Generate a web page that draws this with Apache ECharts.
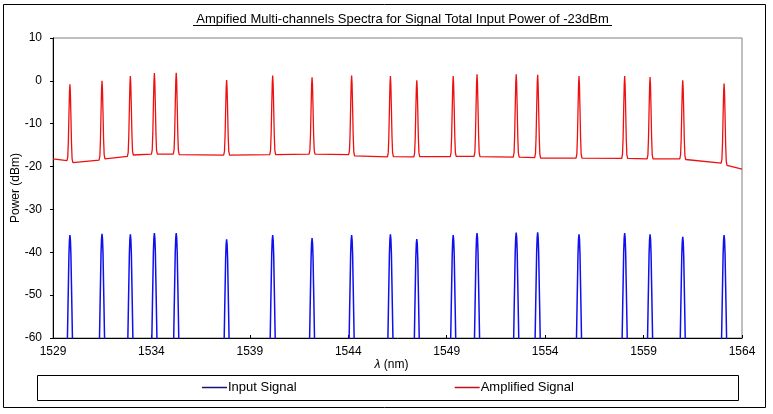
<!DOCTYPE html>
<html>
<head>
<meta charset="utf-8">
<script src="https://cdn.jsdelivr.net/npm/echarts@6/dist/echarts.min.js"></script>
<style>
  html, body { margin: 0; padding: 0; background: #fff; }
  #chart { width: 773px; height: 414px; }
</style>
</head>
<body>
<div id="chart"></div>
<script>
// ---- Data ----
const xTicks = [1529, 1534, 1539, 1544, 1549, 1554, 1559, 1564];
const yTicks = [-60, -50, -40, -30, -20, -10, 0, 10];

// channel centre wavelengths (nm)
const channels = [1529.86, 1531.49, 1532.93, 1534.15, 1535.26, 1537.82, 1540.16, 1542.16, 1544.17, 1546.14,
                  1547.48, 1549.33, 1550.54, 1552.53, 1553.62, 1555.72, 1558.04, 1559.33, 1560.99, 1563.09];

// Input signal peak power (dBm)
const inputPeak = [-36.0, -35.7, -35.8, -35.5, -35.5, -37.0, -36.0, -36.7, -36.0, -35.8,
                   -36.9, -36.0, -35.5, -35.4, -35.35, -35.8, -35.5, -35.8, -36.4, -36.0];

// Amplified signal peak power (dBm)
const ampPeak = [-0.8, 0.0, 1.1, 1.8, 1.9, 0.2, 1.25, 0.85, 1.25, 1.1,
                 0.15, 1.1, 1.55, 1.55, 1.4, 1.1, 1.1, 0.9, 0.15, -0.6];

// Amplified signal ASE floor just left / right of each channel (dBm)
const ampFloorBefore = [-18.6, -18.5, -17.6, -17.1, -17.1, -17.35, -17.2, -17.1, -17.2, -17.75,
                        -17.75, -17.7, -17.6, -17.8, -17.9, -18.05, -18.1, -18.2, -18.2, -19.2];
const ampFloorAfter  = [-19.1, -18.2, -17.3, -17.1, -17.2, -17.35, -17.2, -17.1, -17.5, -17.7,
                        -17.7, -17.6, -17.7, -17.8, -18.05, -18.05, -18.1, -18.2, -18.35, -19.7];
const ampFloorStart = -18.2;   // at 1529 nm
const ampFloorEnd = -20.6;     // at 1564 nm

// Peak line shapes
const inputShapeOffset = [-0.16, -0.127, -0.1, -0.076, -0.05, -0.025, 0, 0.025, 0.05, 0.076, 0.1, 0.127, 0.16]; // nm
const inputShapeDrop   = [-44, -24, -17, -11, -4.5, -1.2, 0, -1.2, -4.5, -11, -17, -24, -44];               // dB below peak
const ampShapeOffset = [-0.15, -0.11, -0.08, -0.05, -0.022, 0, 0.022, 0.05, 0.08, 0.11, 0.15];              // nm
const ampShapeFrac   = [0, 0.05, 0.25, 0.6, 0.9, 1, 0.9, 0.6, 0.25, 0.05, 0];                                // share of peak height above floor

// ---- Build series points ----
const inputData = [];
channels.forEach((c, i) => {
  inputShapeOffset.forEach((o, k) => {
    inputData.push([+(c + o).toFixed(4), inputPeak[i] + inputShapeDrop[k]]);
  });
});

const ampData = [[1529, ampFloorStart]];
channels.forEach((c, i) => {
  ampShapeOffset.forEach((o, k) => {
    const floor = o < 0 ? ampFloorBefore[i] : ampFloorAfter[i];
    const floorMid = o === 0 ? (ampFloorBefore[i] + ampFloorAfter[i]) / 2 : floor;
    ampData.push([+(c + o).toFixed(4), floorMid + ampShapeFrac[k] * (ampPeak[i] - floorMid)]);
  });
});
ampData.push([1564, ampFloorEnd]);

const FONT = 'Liberation Sans, Arial, sans-serif';

const chart = echarts.init(document.getElementById('chart'), null, { renderer: 'canvas' });
chart.setOption({
  animation: false,
  backgroundColor: '#ffffff',
  textStyle: { fontFamily: FONT },
  grid: {
    left: 53, right: 31, top: 38, bottom: 76,
    containLabel: false, outerBoundsMode: 'none',
    show: true, borderColor: '#808080', borderWidth: 1, backgroundColor: 'transparent'
  },
  legend: {
    left: 202, top: 381,
    padding: 0,
    itemGap: 158,
    itemWidth: 25, itemHeight: 1.5,
    icon: 'rect',
    textStyle: { fontFamily: FONT, fontSize: 13, color: '#000', padding: [0, 0, 0, -4] },
    data: [
      { name: 'Input Signal', itemStyle: { color: '#14147a' } },
      { name: 'Amplified Signal', itemStyle: { color: '#c0101a' } }
    ]
  },
  xAxis: {
    type: 'value',
    min: xTicks[0], max: xTicks[xTicks.length - 1],
    name: '{i|λ} (nm)',
    nameLocation: 'middle',
    nameGap: 21,
    nameMoveOverlap: false,
    nameTextStyle: {
      fontFamily: FONT, fontSize: 12, color: '#000', padding: [0, 12, 0, 0],
      rich: { i: { fontFamily: FONT, fontSize: 12, fontStyle: 'italic', color: '#000' } }
    },
    axisLine: { show: true, onZero: false, lineStyle: { color: '#000', width: 1 } },
    axisTick: { show: true, inside: true, length: 3, customValues: xTicks, lineStyle: { color: '#000' } },
    axisLabel: { customValues: xTicks, margin: 8, fontFamily: FONT, fontSize: 12, color: '#000',
                 formatter: v => String(v) },
    splitLine: { show: false }
  },
  yAxis: {
    type: 'value',
    min: yTicks[0], max: yTicks[yTicks.length - 1], interval: 10,
    name: 'Power (dBm)',
    nameLocation: 'middle',
    nameGap: 31,
    nameMoveOverlap: false,
    nameTextStyle: { fontFamily: FONT, fontSize: 12, color: '#000' },
    axisLine: { show: true, onZero: false, lineStyle: { color: '#000', width: 1 } },
    axisTick: { show: true, inside: false, length: 3, lineStyle: { color: '#000' } },
    axisLabel: { margin: 11, fontFamily: FONT, fontSize: 12, color: '#000' },
    splitLine: { show: false }
  },
  series: [
    {
      name: 'Input Signal', type: 'line', data: inputData,
      showSymbol: false, clip: true, smooth: false,
      lineStyle: { color: '#1010ee', width: 1.5 },
      itemStyle: { color: '#14147a' },
      z: 3
    },
    {
      name: 'Amplified Signal', type: 'line', data: ampData,
      showSymbol: false, clip: true, smooth: false,
      lineStyle: { color: '#ee1010', width: 1.3 },
      itemStyle: { color: '#c0101a' },
      z: 4
    }
  ],
  graphic: [
    { type: 'rect', shape: { x: 3.5, y: 4.5, width: 762, height: 403 },
      style: { fill: 'none', stroke: '#000', lineWidth: 1 }, silent: true, z: 0 },
    { type: 'rect', shape: { x: 37.5, y: 375.5, width: 701, height: 25 },
      style: { fill: 'none', stroke: '#000', lineWidth: 1 }, silent: true, z: 0 },
    { type: 'text', x: 402.5, y: 19,
      style: { text: 'Ampified Multi-channels Spectra for Signal Total Input Power of -23dBm',
               font: '13px ' + FONT, fill: '#000', textAlign: 'center', textVerticalAlign: 'middle' },
      silent: true },
    { type: 'line', shape: { x1: 193, y1: 25.5, x2: 612, y2: 25.5 },
      style: { stroke: '#000', lineWidth: 1 }, silent: true }
  ]
});
</script>
</body>
</html>
